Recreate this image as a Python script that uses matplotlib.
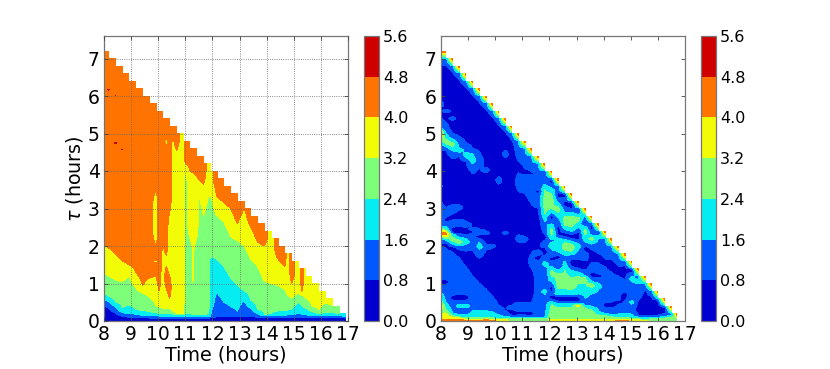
import numpy as np
import matplotlib
matplotlib.use("Agg")
import matplotlib.pyplot as plt

# colour levels shared by both panels
levels = [0.0, 0.8, 1.6, 2.4, 3.2, 4.0, 4.8, 5.6]
x_ticks = [8, 9, 10, 11, 12, 13, 14, 15, 16, 17]
y_ticks = [0, 1, 2, 3, 4, 5, 6, 7]

# for every time column, pairs of (colour band, tau where it stops)
left_times = [7.92, 8.17, 8.42, 8.67, 8.92, 9.17, 9.42, 9.67, 9.92, 10.03, 10.17, 10.30, 10.42,
              10.54, 10.67, 10.92, 11.00, 11.17, 11.29, 11.42, 11.52, 11.67, 11.86, 11.92,
              12.17, 12.42, 12.67, 12.92, 13.17, 13.42, 13.67, 13.92, 14.17, 14.42, 14.67,
              14.77, 14.92, 15.17, 15.30, 15.42, 15.67, 15.92, 16.17, 16.42, 16.67, 16.92]
left_runs = [
    [0, .45, 1, .6, 2, .75, 3, 1.3, 4, 2.1, 5, 7.2],
    [0, .36, 1, .52, 2, .65, 3, 1.2, 4, 1.95, 5, 6.12, 5.6, 6.22, 5, 7.2],
    [0, .22, 1, .38, 2, .5, 3, 1.1, 4, 1.8, 5, 4.72, 5.6, 4.78, 5, 5.98, 5.6, 6.05, 5, 7.0],
    [0, .13, 1, .22, 2, .35, 3, 1.05, 4, 1.6, 5, 4.56, 5.6, 4.6, 5, 5.76, 5.6, 5.82, 5, 6.8],
    [0, .1, 1, .2, 2, .42, 3, 1.2, 4, 1.5, 5, 6.6],
    [0, .1, 1, .18, 2, .3, 3, .9, 4, 1.3, 5, 6.4],
    [0, .1, 1, .15, 2, .28, 3, .75, 4, .95, 5, 6.2],
    [0, .08, 1, .15, 2, .25, 3, .65, 4, 1.15, 5, 6.0],
    [0, .08, 1, .14, 2, .22, 3, .4, 4, 1.2, 5, 1.55, 4, 1.62, 5, 2.0, 4, 3.5, 5, 5.8],
    [0, .08, 1, .13, 2, .2, 3, .37, 4, .8, 5, 5.6],
    [0, .07, 1, .12, 2, .2, 3, .33, 4, 1.6, 4.4, 3.3, 5, 5.6],
    [0, .07, 1, .12, 2, .2, 3, .33, 4, .85, 5, 1.45, 4, 1.75, 5, 4.7, 4, 4.87, 5, 5.4],
    [0, .07, 1, .12, 2, .2, 3, .33, 4, .6, 5, 1.2, 4, 2.9, 5, 5.4],
    [0, .07, 1, .12, 2, .18, 3, .25, 4, 4.9, 5, 5.2],
    [0, .07, 1, .12, 2, .16, 3, .2, 4, 4.55, 5, 5.2],
    [0, .07, 1, .12, 2, .16, 3, .2, 4, 5.0],
    [0, .07, 1, .12, 2, .18, 3, 4.0, 4, 4.2, 5, 4.8],
    [0, .07, 1, .12, 2, .18, 3, 2.2, 4, 4.0, 5, 4.8],
    [0, .07, 1, .12, 2, .16, 3, .8, 3.6, 2.2, 4, 3.95, 5, 4.6],
    [0, .07, 1, .12, 2, .16, 3, 2.2, 4, 3.85, 5, 4.6],
    [0, .07, 1, .12, 2, .16, 3, 3.3, 4, 3.75, 5, 4.4],
    [0, .07, 1, .12, 2, .16, 3, 2.8, 4, 3.65, 5, 4.4],
    [0, .07, 1, .12, 2, .18, 3, 3.3, 4, 4.2],
    [0, .09, 1, .12, 2, 1.72, 3, 3.4, 4, 4.2],
    [0, .12, 1, .75, 2, 1.65, 3, 2.8, 4, 3.3, 5, 4.0],
    [0, .12, 1, .5, 2, 1.45, 3, 2.65, 4, 3.15, 5, 3.8],
    [0, .12, 1, .38, 2, 1.15, 3, 2.25, 4, 3.0, 5, 3.6],
    [0, .12, 1, .25, 2, .95, 3, 2.15, 4, 2.6, 5, 3.4],
    [0, .12, 1, .55, 2, .8, 3, 2.0, 4, 3.0, 5, 3.2],
    [0, .12, 1, .33, 2, .55, 3, 1.65, 4, 2.5, 5, 3.0],
    [0, .1, 1, .2, 2, .3, 3, 1.45, 4, 2.1, 5, 2.8],
    [0, .1, 1, .14, 2, .17, 3, 1.05, 4, 2.0, 5, 2.6],
    [0, .1, 1, .14, 2, .2, 3, 1.0, 4, 2.4],
    [0, .1, 1, .14, 2, .26, 3, .95, 4, 1.65, 5, 2.2],
    [0, .1, 1, .14, 2, .26, 3, .85, 4, 1.45, 5, 2.0],
    [0, .1, 1, .16, 2, .28, 3, .7, 4, 1.8],
    [0, .1, 1, .16, 2, .32, 3, .6, 4, 1.0, 5, 1.8],
    [0, .1, 1, .2, 2, .5, 3, .75, 4, 1.6],
    [0, .1, 1, .18, 2, .4, 3, .68, 4, .78, 5, 1.4],
    [0, .1, 1, .16, 2, .35, 3, .62, 4, 1.4],
    [0, .1, 1, .14, 2, .25, 3, .4, 4, 1.2],
    [0, .1, 1, .14, 2, .2, 3, .28, 4, 1.0],
    [0, .1, 1, .14, 2, .22, 3, .48, 4, .8],
    [0, .1, 1, .14, 2, .22, 3, .42, 4, .6],
    [0, .1, 1, .14, 2, .2, 3, .4],
    [0, .08, 1, .12, 2, .2],
]

right_times = [7.94, 8.18, 8.43, 8.67, 8.92, 9.17, 9.42, 9.67, 9.91, 10.13, 10.37, 10.61, 10.86,
               11.10, 11.34, 11.59, 11.83, 12.08, 12.32, 12.57, 12.82, 13.07, 13.32, 13.56,
               13.81, 14.06, 14.30, 14.55, 14.79, 15.04, 15.28, 15.53, 15.77, 16.00, 16.26,
               16.50, 16.70]
right_runs = [
    [5, .04, 4, .15, 3, .32, 5, .45, 3, .6, 2, .8, 1, .98, 0, 1.1, 1, 2.08, 0, 2.2, 3, 2.28, 5, 2.42,
     3, 2.5, 1, 2.65, 2, 2.85, 1, 3.2, 0, 3.55, 1, 3.65, 0, 4.7, 2, 4.85, 5, 5.05, 3, 5.12, 1, 5.5,
     0, 5.7, 1, 5.9, 0, 7.2],
    [5, .04, 4, .22, 3, .3, 2, .5, 1, .98, 0, 1.1, 1, 1.95, 0, 2.12, 2, 2.25, 5, 2.4, 2, 2.52, 1, 2.65,
     0, 2.75, 1, 3.0, 0, 4.55, 1, 4.65, 2, 4.72, 3, 4.9, 1, 5.3, 0, 5.55, 1, 5.65, 0, 7.2],
    [5, .04, 4, .1, 3, .15, 2, .2, 1, .55, 0, .68, 1, 1.85, 0, 2.05, 3, 2.3, 1, 2.35, 0, 2.5, 1, 2.7,
     0, 2.85, 1, 3.1, 0, 4.5, 2, 4.65, 3, 4.8, 1, 5.0, 0, 5.35, 1, 5.45, 0, 7.0],
    [5, .04, 4, .08, 3, .12, 1, .35, 2, .45, 1, .55, 0, .7, 1, 1.7, 0, 2.0, 3, 2.2, 1, 2.33, 0, 2.52,
     1, 2.72, 0, 2.95, 1, 3.1, 0, 4.4, 1, 4.5, 2, 4.62, 1, 4.92, 0, 6.8],
    [5, .03, 3, .1, 1, .35, 2, .45, 1, .55, 0, .7, 1, 1.45, 0, 2.0, 2, 2.2, 1, 2.3, 0, 2.5, 1, 2.65,
     0, 4.25, 1, 4.35, 2, 4.5, 1, 4.75, 0, 6.6],
    [5, .03, 3, .1, 1, 1.2, 0, 1.9, 1, 2.35, 0, 2.4, 1, 2.5, 0, 4.1, 2, 4.45, 1, 4.6, 0, 6.4],
    [5, .03, 3, .1, 1, 1.0, 0, 1.85, 2, 2.1, 1, 2.2, 0, 2.3, 1, 2.45, 0, 4.1, 1, 4.5, 0, 6.2],
    [5, .04, 3, .1, 1, .85, 0, 1.9, 1, 2.05, 0, 2.3, 1, 2.4, 0, 3.95, 1, 4.1, 0, 6.0],
    [5, .03, 3, .1, 1, .65, 0, 1.95, 1, 2.05, 0, 5.8],
    [4, .04, 3, .08, 1, .42, 0, 3.65, 1, 3.85, 0, 5.6],
    [4, .04, 3, .08, 2, .11, 1, .28, 0, 2.3, 1, 2.4, 0, 4.35, 1, 4.55, 0, 5.4],
    [3, .06, 2, .1, 1, .15, 0, .3, 1, .42, 0, 5.0, 1, 5.2],
    [3, .06, 2, .1, 1, .16, 0, .25, 1, .5, 0, 2.1, 1, 2.3, 0, 3.45, 1, 3.95, 0, 4.25, 1, 5.0],
    [3, .06, 2, .1, 1, .16, 0, .25, 1, .5, 0, 2.1, 1, 2.25, 0, 3.4, 1, 3.9, 0, 4.05, 1, 4.8],
    [3, .06, 2, .1, 1, .14, 0, .25, 1, .5, 0, 1.4, 1, 1.8, 0, 3.1, 1, 3.9, 0, 3.97, 1, 4.6],
    [3, .06, 2, .1, 1, 1.6, 0, 1.75, 1, 1.9, 0, 3.0, 1, 3.4, 0, 3.5, 1, 4.4],
    [3, .06, 2, .1, 1, .72, 2, .85, 1, 1.25, 0, 1.3, 1, 1.45, 2, 1.6, 1, 1.75, 0, 1.95, 1, 2.15, 0, 2.3,
     1, 2.65, 2, 2.85, 3, 3.5, 2, 3.65, 1, 3.95, 0, 4.0, 1, 4.2],
    [4, .05, 3, .45, 2, .52, 1, .58, 0, .7, 1, .75, 0, 1.0, 2, 1.2, 3, 1.35, 2, 1.45, 1, 1.6, 0, 1.7,
     1, 1.9, 2, 2.1, 1, 2.2, 3, 2.55, 1, 2.7, 0, 2.85, 2, 3.0, 3, 3.4, 2, 3.55, 1, 3.65, 0, 3.8, 1, 4.0],
    [4, .04, 3, .45, 1, .52, 0, .65, 1, .72, 3, 1.25, 2, 1.35, 1, 1.45, 0, 1.5, 1, 1.65, 0, 1.75, 1, 1.85,
     2, 2.2, 1, 2.3, 0, 2.6, 1, 2.75, 2, 2.9, 3, 3.05, 2, 3.15, 1, 3.3, 0, 3.45, 1, 3.55, 0, 3.7, 1, 3.8],
    [4, .04, 3, .45, 1, .52, 0, .65, 1, .72, 3, 1.35, 2, 1.6, 1, 1.8, 3, 2.1, 2, 2.2, 0, 2.4, 2, 2.55,
     3, 2.8, 2, 2.9, 1, 3.05, 0, 3.2, 1, 3.3, 0, 3.45, 1, 3.6],
    [4, .04, 3, .45, 1, .52, 0, .65, 1, .72, 3, 1.15, 2, 1.35, 1, 1.45, 0, 1.65, 1, 1.8, 3, 2.05, 2, 2.15,
     0, 2.35, 2, 2.5, 3, 2.8, 2, 2.9, 1, 3.0, 0, 3.2, 1, 3.4],
    [4, .04, 3, .38, 4, .42, 3, .46, 1, .52, 0, .65, 1, .72, 2, 1.0, 3, 1.2, 2, 1.3, 1, 1.4, 0, 1.65,
     1, 1.9, 2, 2.05, 1, 2.15, 0, 2.4, 1, 2.5, 2, 2.65, 3, 2.8, 1, 2.95, 0, 3.1, 1, 3.2],
    [4, .04, 3, .35, 2, .42, 1, .6, 2, 1.0, 3, 1.15, 2, 1.2, 1, 1.35, 0, 1.6, 1, 1.85, 0, 2.05, 2, 2.3,
     3, 2.45, 2, 2.55, 0, 2.7, 1, 2.85, 0, 3.0],
    [4, .04, 3, .3, 2, .38, 1, .72, 2, .9, 3, 1.0, 2, 1.05, 1, 1.15, 0, 1.3, 1, 1.55, 0, 1.9, 1, 2.05,
     2, 2.15, 3, 2.25, 1, 2.4, 0, 2.6, 1, 2.8],
    [4, .04, 3, .16, 2, .25, 1, .85, 2, 1.0, 1, 1.15, 0, 1.25, 1, 1.55, 0, 1.8, 1, 2.2, 2, 2.3, 0, 2.5, 1, 2.6],
    [4, .04, 3, .14, 2, .2, 1, .35, 0, .5, 1, 1.45, 0, 1.65, 1, 2.2, 0, 2.3, 1, 2.4],
    [4, .04, 3, .12, 2, .16, 1, .35, 0, .5, 1, 1.3, 0, 1.65, 1, 2.2],
    [5, .03, 3, .1, 1, .45, 0, .55, 1, 1.2, 0, 1.45, 1, 2.0],
    [5, .03, 3, .1, 1, .55, 0, .78, 1, 1.1, 0, 1.6, 1, 1.8],
    [4, .04, 3, .09, 1, .45, 2, .55, 1, 1.05, 2, 1.2, 1, 1.3, 0, 1.6],
    [4, .04, 2, .1, 1, .14, 0, .55, 1, 1.0, 2, 1.1, 1, 1.2, 0, 1.4],
    [4, .03, 2, .1, 1, .14, 0, .85, 1, 1.2],
    [3, .06, 2, .1, 1, .14, 0, .8, 1, 1.0],
    [3, .06, 2, .1, 1, .14, 0, .55, 1, .8],
    [3, .08, 2, .12, 1, .2, 0, .4, 1, .6],
    [3, .1, 2, .15, 1, .2, 0, .3, 1, .4],
    [3, .2],
]
# colours climbing at the diagonal edge of the right panel
right_rim = [2, 3, 4, 5]


def make_grid(times, runs, rim=None):
    """Turn the band runs of each column into a masked value grid."""
    tau = np.arange(0, 7.2001, 0.025)
    grid = np.full((len(tau), len(times)), np.nan)
    for c, run in enumerate(runs):
        bands, tops = list(run[0::2]), list(run[1::2])
        last = tops[-1]
        if rim:
            low = last - 0.05 * len(rim)
            keep = [i for i, top in enumerate(tops) if top < low - 1e-6]
            # the run cut by the rim keeps its band up to the rim
            cut = bands[len(keep)]
            bands = [bands[i] for i in keep] + [cut] + rim
            tops = [tops[i] for i in keep] + [low] + [low + 0.05 * (n + 1) for n in range(len(rim))]
        # value profile: crosses between bands at each stop, band middle inside a run
        knots_x, knots_y = [], []
        start = 0.0
        for n, (b, top) in enumerate(zip(bands, tops)):
            mid = (b + 0.5) * 0.8
            if n == 0:
                knots_x.append(0.0)
                knots_y.append(mid)
            d = min(0.35, (top - start) / 2)
            knots_x += [start + d, top - d]
            knots_y += [mid, mid]
            if n < len(bands) - 1:
                knots_x.append(top)
                knots_y.append((mid + (bands[n + 1] + 0.5) * 0.8) / 2)
            else:
                knots_x.append(top)
                knots_y.append(mid)
            start = top
        col = np.interp(tau, knots_x, knots_y)
        col[tau > last + 1e-6] = np.nan
        grid[:, c] = col
    return tau, np.ma.masked_invalid(grid)


def draw_panel(ax_rect, cbar_rect, times, runs, rim=None, grid_on=False):
    ax = fig.add_axes(ax_rect)
    tau, grid = make_grid(times, runs, rim)
    cs = ax.contourf(times, tau, grid, levels=levels, cmap="jet", corner_mask=False)
    ax.set_xlim(8, 17)
    ax.set_ylim(0, 7.6)
    ax.set_xticks(x_ticks)
    ax.set_yticks(y_ticks)
    ax.tick_params(direction="in", top=True, right=True, labelsize=13.5, length=3, width=0.6,
                   color="#444444", pad=3)
    ax.set_xlabel("Time (hours)", fontsize=13.8, labelpad=1)
    for s in ax.spines.values():
        s.set_color("#777777")
        s.set_linewidth(0.9)
    if grid_on:
        ax.set_axisbelow(False)
        ax.grid(True, linestyle=":", color="#666666", linewidth=0.6)
    cax = fig.add_axes(cbar_rect)
    cb = fig.colorbar(cs, cax=cax, ticks=levels)
    cb.ax.tick_params(labelsize=11.5, length=0, pad=3)
    cb.ax.set_yticklabels(["%.1f" % v for v in levels])
    cb.outline.set_edgecolor("#777777")
    cb.outline.set_linewidth(0.9)
    return ax


W, H = 830.0, 369.0
fig = plt.figure(figsize=(8.3, 3.69), dpi=100)

ax1 = draw_panel([104 / W, 1 - 321 / H, 244 / W, 285 / H], [364 / W, 1 - 321 / H, 15 / W, 285 / H],
                 left_times, left_runs, grid_on=True)
ax1.set_ylabel(r"$\tau$ (hours)", fontsize=13.8, labelpad=2)

ax2 = draw_panel([441 / W, 1 - 321 / H, 244 / W, 285 / H], [701 / W, 1 - 321 / H, 15 / W, 285 / H],
                 right_times, right_runs, rim=right_rim)

fig.savefig("out.png", dpi=100)
